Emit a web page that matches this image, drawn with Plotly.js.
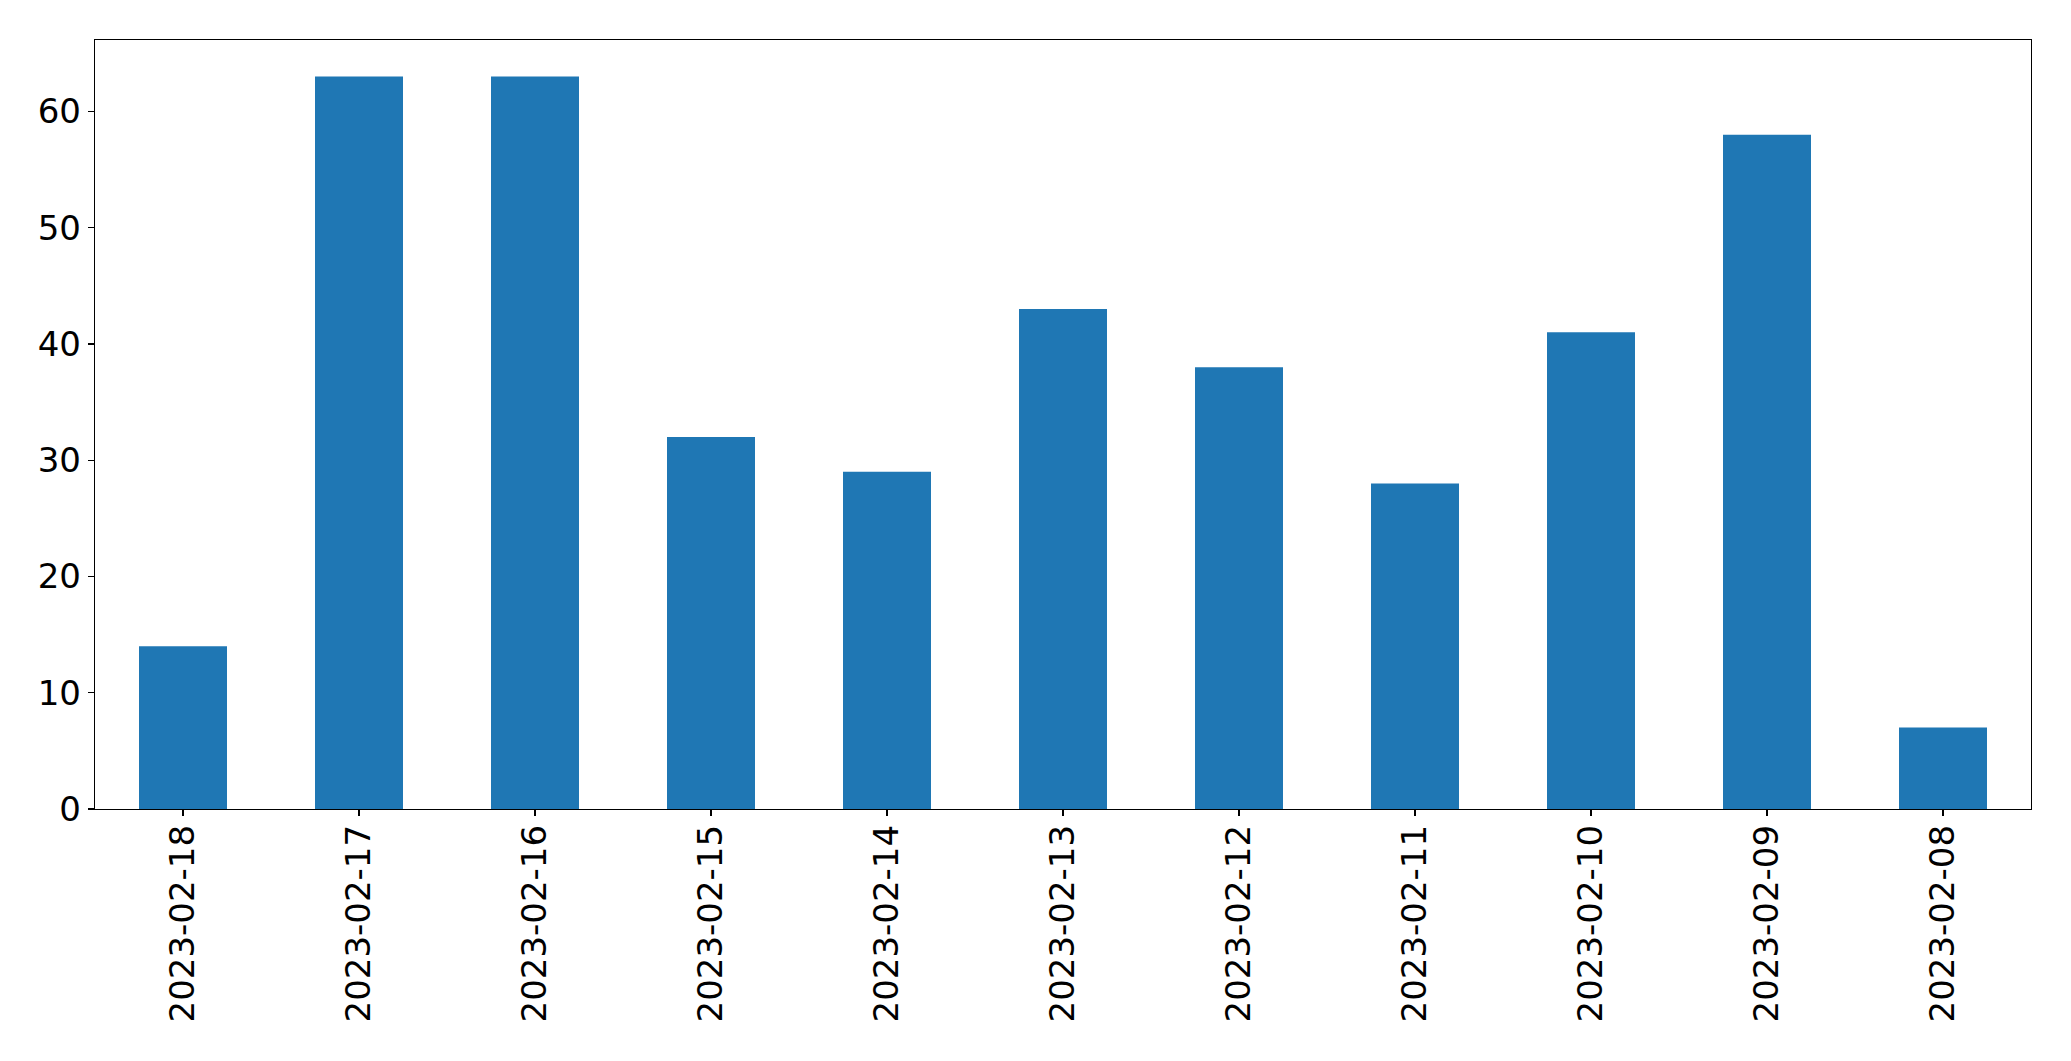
<!DOCTYPE html>
<html>
<head>
<meta charset="utf-8">
<script src="https://cdn.plot.ly/plotly-3.0.1.min.js"></script>
<style>html,body{margin:0;padding:0;background:#fff;}#chart{width:2071px;height:1061px;}</style>
</head>
<body>
<div id="chart"></div>
<script>
const categories = ["2023-02-18","2023-02-17","2023-02-16","2023-02-15","2023-02-14","2023-02-13","2023-02-12","2023-02-11","2023-02-10","2023-02-09","2023-02-08"];
const values = [14, 63, 63, 32, 29, 43, 38, 28, 41, 58, 7];
const yTicks = [0, 10, 20, 30, 40, 50, 60];

const trace = {
  type: 'bar',
  x: categories,
  y: values,
  width: 0.5,
  marker: {color: '#1f77b4', line: {width: 0}},
  hoverinfo: 'x+y'
};

const layout = {
  width: 2071,
  height: 1061,
  paper_bgcolor: '#ffffff',
  plot_bgcolor: '#ffffff',
  margin: {l: 94.5, r: 39.5, t: 39.5, b: 252, pad: 0},
  showlegend: false,
  font: {family: 'DejaVu Sans', size: 34, color: '#000000'},
  xaxis: {
    type: 'category',
    range: [-0.5, 10.5],
    tickangle: -90,
    ticks: 'outside',
    ticklen: 6,
    tickwidth: 1.3,
    tickcolor: '#000',
    ticklabelstandoff: -5,
    showline: true,
    linecolor: '#000',
    linewidth: 1.3,
    mirror: true,
    showgrid: false,
    zeroline: false,
    tickfont: {family: 'DejaVu Sans', size: 34, color: '#000'}
  },
  yaxis: {
    range: [0, 66.15],
    tickvals: yTicks,
    ticktext: yTicks.map(String),
    ticks: 'outside',
    ticklen: 6,
    tickwidth: 1.3,
    tickcolor: '#000',
    showline: true,
    linecolor: '#000',
    linewidth: 1.3,
    mirror: true,
    showgrid: false,
    zeroline: false,
    tickfont: {family: 'DejaVu Sans', size: 34, color: '#000'}
  }
};

Plotly.newPlot('chart', [trace], layout, {displayModeBar: false, staticPlot: true});
</script>
</body>
</html>
